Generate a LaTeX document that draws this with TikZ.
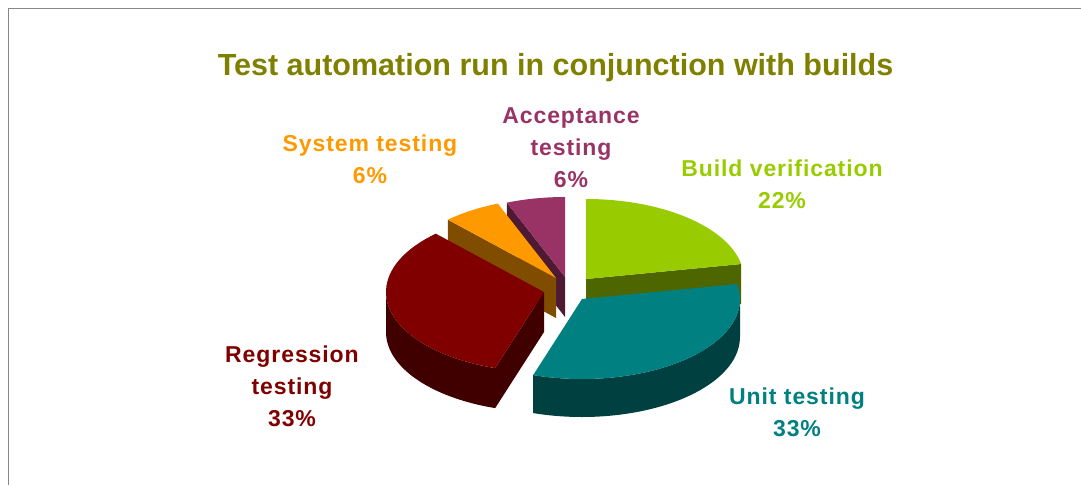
\documentclass[tikz,border=0pt]{standalone}
\usepackage{fontspec}
\setmainfont{Liberation Sans}
\usepackage{tikz}
\definecolor{titleolive}{RGB}{128,128,0}
\definecolor{acctop}{RGB}{153,51,102}
\definecolor{accside}{RGB}{77,25,51}
\definecolor{systop}{RGB}{255,153,0}
\definecolor{sysside}{RGB}{128,77,0}
\definecolor{buildtop}{RGB}{153,204,0}
\definecolor{buildside}{RGB}{77,102,0}
\definecolor{regtop}{RGB}{128,0,0}
\definecolor{regside}{RGB}{64,0,0}
\definecolor{unittop}{RGB}{0,128,128}
\definecolor{unitside}{RGB}{0,64,64}

\begin{document}
\begin{tikzpicture}[x=1pt,y=1pt,yscale=-1,xscale=1,
  pctlabel/.style={align=center,font=\fontsize{23}{32}\selectfont\bfseries\addfontfeatures{LetterSpace=4}}]
\path[use as bounding box] (0,0) rectangle (1081,485);

%Straight Lines: chart frame
\draw [color={rgb, 255:red, 136; green, 136; blue, 136 }, line width=1.5] (8.5,485) -- (8.5,8.5) -- (1081,8.5);

% pie, drawn from the back to the front (y up from the pie centre)
\begin{scope}[shift={(568,289)},yscale=-1]
%Shape: Acceptance testing slice
\fill [accside] (-3,12) -- ++(111.6:158 and 80) -- ++(0,-40) -- (-3,-28) -- cycle;
\fill [acctop] (-3,12) -- ++(90:158 and 80) arc [start angle=90, end angle=111.6, x radius=158, y radius=80] -- cycle;

%Shape: System testing slice
\fill [sysside] (-12,11) -- ++(133.2:158 and 80) -- ++(0,-40) -- (-12,-29) -- cycle;
\fill [systop] (-12,11) -- ++(111.6:158 and 80) arc [start angle=111.6, end angle=133.2, x radius=158, y radius=80] -- cycle;

%Shape: Build verification slice
\fill [buildside] (18,10) -- ++(10.8:158 and 80) -- ++(0,-40) -- (18,-30) -- cycle;
\fill [buildtop] (18,10) -- ++(10.8:158 and 80) arc [start angle=10.8, end angle=90, x radius=158, y radius=80] -- cycle;

%Shape: Regression testing slice
\fill [regside] (-24,-3) ++(180:158 and 80) arc [start angle=180, end angle=252, x radius=158, y radius=80] -- ++(0,-40) arc [start angle=252, end angle=180, x radius=158, y radius=80] -- cycle;
\fill [regside] (-24,-3) -- ++(252:158 and 80) -- ++(0,-40) -- (-24,-43) -- cycle;
\fill [regtop] (-24,-3) -- ++(133.2:158 and 80) arc [start angle=133.2, end angle=252, x radius=158, y radius=80] -- cycle;

%Shape: Unit testing slice
\fill [unitside] (14,-10) ++(-108:158 and 80) arc [start angle=-108, end angle=0, x radius=158, y radius=80] -- ++(0,-38) arc [start angle=0, end angle=-108, x radius=158, y radius=80] -- cycle;
\fill [unittop] (14,-10) -- ++(-108:158 and 80) arc [start angle=-108, end angle=10.8, x radius=158, y radius=80] -- cycle;
\end{scope}

% Text Node
\draw (555.5,75) node (title) [anchor=base, text=titleolive, font=\fontsize{30.5}{36}\selectfont\bfseries] {Test automation run in conjunction with builds};
% Text Node
\draw (370,159) node (syslabel) [pctlabel, text=systop] {System testing\\6\%};
% Text Node
\draw (571,148) node (acclabel) [pctlabel, text=acctop] {Acceptance\\testing\\6\%};
% Text Node
\draw (782,184) node (buildlabel) [pctlabel, text=buildtop] {Build verification\\22\%};
% Text Node
\draw (292,386) node (reglabel) [pctlabel, text=regtop] {Regression\\testing\\33\%};
% Text Node
\draw (797,412) node (unitlabel) [pctlabel, text=unittop] {Unit testing\\33\%};

\end{tikzpicture}
\end{document}
